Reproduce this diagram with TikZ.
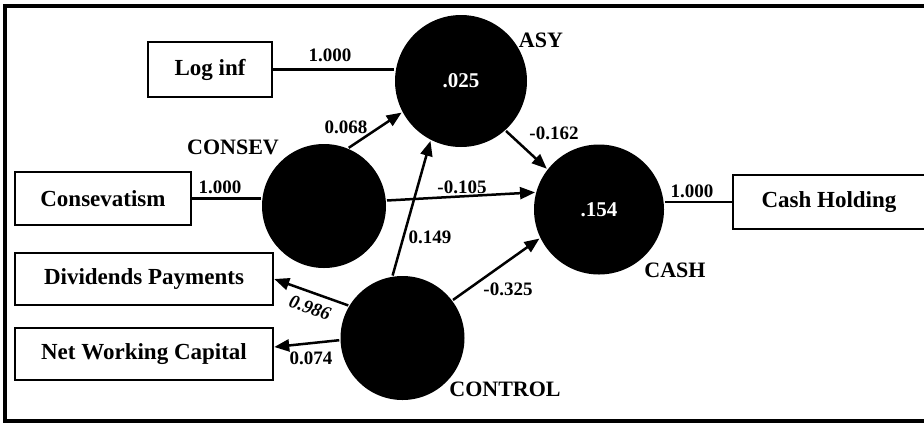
\documentclass[tikz,border=0pt]{standalone}
\usepackage{fontspec}
\setmainfont{Liberation Serif}
\usepackage{tikz}
\usetikzlibrary{arrows.meta,positioning}

\begin{document}
\begin{tikzpicture}[x=1pt,y=-1pt,line width=2.5pt,>={Triangle[length=15pt,width=12pt]}]
          \tikzset{every node/.style={font=\bfseries}}
          \tikzset{obs/.style={draw,rectangle,inner sep=0pt,font=\fontsize{23}{26}\selectfont\bfseries}}
          \tikzset{lat/.style={circle,fill=black,inner sep=0pt,text=white,font=\fontsize{21}{24}\selectfont\bfseries}}
          \tikzset{vname/.style={font=\fontsize{22}{26}\selectfont\bfseries}}
          \tikzset{coef/.style={font=\fontsize{19}{22}\selectfont\bfseries}}

          \clip (0,0) rectangle (924,424);
          \draw[line width=4pt] (5,6) rectangle (940,421);

          % latent variables
          \node[lat,minimum size=132pt] (asy)     at (461,81)    {.025};
          \node[lat,minimum size=130pt] (cash)    at (599,209.5) {.154};
          \node[lat,minimum size=124pt] (consev)  at (324,206)   {};
          \node[lat,minimum size=124pt] (control) at (402.5,338) {};

          \node[vname] (asyname)     at (541,40)  {ASY};
          \node[vname] (cashname)    at (675,270) {CASH};
          \node[vname] (consevname)  at (233,147) {CONSEV};
          \node[vname] (controlname) at (505,389) {CONTROL};

          % indicators
          \node[obs,minimum width=124pt,minimum height=55pt] (loginf)   at (210,69.5) {Log inf};
          \node[obs,minimum width=176pt,minimum height=53pt] (conserv)  at (103,198.5) {Consevatism};
          \node[obs,minimum width=258pt,minimum height=52pt] (divpay)   at (144,279) {Dividends Payments};
          \node[obs,minimum width=258pt,minimum height=52pt] (nwc)      at (144,354) {Net Working Capital};
          \node[obs,minimum width=192pt,minimum height=54pt] (cashhold) at (829,202) {Cash Holding};

          \draw (loginf.east) -- (loginf.east -| asy.west);
          \draw (conserv.east) -- (conserv.east -| consev.west);
          \draw (cash.east |- cashhold.west) -- (cashhold.west);

          \path[->]
          (consev.67)   edge (asy.208)
          (consev.5)    edge (cash.165)
          (asy.312)     edge (cash.142)
          (control.99)  edge (asy.243)
          (control.37)  edge (cash.206)
          (control.149) edge (divpay.east)
          (control.182) edge ([yshift=7pt]nwc.east);

          % path coefficients
          \node[coef] (c1) at (330,55)  {1.000};
          \node[coef] (c2) at (346,127) {0.068};
          \node[coef] (c3) at (220,187) {1.000};
          \node[coef] (c4) at (462,187) {-0.105};
          \node[coef] (c5) at (554,133) {-0.162};
          \node[coef] (c6) at (692,191) {1.000};
          \node[coef] (c7) at (430,237) {0.149};
          \node[coef,font=\fontsize{19}{22}\selectfont\bfseries\itshape,rotate=-19] (c8) at (310,308) {0.986};
          \node[coef] (c9) at (311,358) {0.074};
          \node[coef] (c10) at (508,289) {-0.325};
        \end{tikzpicture}
\end{document}
